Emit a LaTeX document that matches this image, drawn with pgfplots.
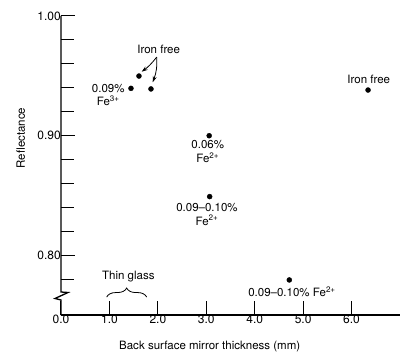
\documentclass[border=0pt]{standalone}
\usepackage{fontspec}
\setmainfont{TeX Gyre Heros}
\usepackage{pgfplots}
\pgfplotsset{compat=1.18}
\usetikzlibrary{decorations.pathreplacing,arrows.meta}

\begin{document}
\begin{tikzpicture}
\begin{axis}[
  at={(0,0)}, anchor=south west,
  scale only axis, width=339pt, height=299pt,
  xmin=0, xmax=7, ymin=0.75, ymax=1.0,
  axis x line=bottom, axis y line=left,
  separate axis lines,
  axis line style={-, line width=1.3pt},
  y axis line style={draw=none},
  tick align=inside,
  xtick={0,1,2,3,4,5,6},
  xticklabels={0.0,1.0,2.0,3.0,4.0,5.0,6.0},
  ytick={0.8,0.9,1.0},
  yticklabels={0.80,0.90,1.00},
  minor ytick={0.78,0.82,0.84,0.86,0.88,0.92,0.94,0.96,0.98},
  major tick length=14pt, minor tick length=13pt,
  every tick/.style={black, line width=1pt},
  /pgf/number format/assume math mode=true,
  tick label style={font=\fontsize{12}{14}\selectfont},
  label style={font=\fontsize{11.5}{14}\selectfont},
  xlabel={Back surface mirror thickness (mm)},
  ylabel={Reflectance},
  every axis x label/.style={at={(axis description cs:0.4386,-0.106)}, anchor=center},
  every axis y label/.style={at={(axis description cs:-0.1189,0.592)}, anchor=center, rotate=90},
  clip=false,
  nodes={font=\fontsize{11.5}{14}\selectfont, inner sep=0pt},
]
\addplot[only marks, mark=*, mark size=2.5pt, black] coordinates {
  (1.445,0.9395) (1.61,0.9498) (1.858,0.939) (6.34,0.9381)
  (3.06,0.8999) (3.07,0.849) (4.714,0.7793)
};
\node at (axis cs:2.017,0.9724) {Iron free};
\draw[-{Stealth[length=6pt,width=4pt]}, line width=0.8pt] (axis cs:1.976,0.9657) to[bend left=8] (axis cs:1.666,0.9534);
\draw[-{Stealth[length=6pt,width=4pt]}, line width=0.8pt] (axis cs:1.976,0.9657) to[bend left=12] (axis cs:1.893,0.9446);
\node[align=center, font=\fontsize{11.5}{13.5}\selectfont] at (axis cs:0.975,0.9340) {0.09\%\hspace{0.9em}\\Fe\textsuperscript{3+}};
\node at (axis cs:6.354,0.9473) {Iron free};
\node[align=center, font=\fontsize{11.5}{13.5}\selectfont] at (axis cs:3.03,0.8865) {0.06\%\\Fe\textsuperscript{2+}};
\node[align=center, font=\fontsize{11.5}{13.5}\selectfont] at (axis cs:3.015,0.8340) {0.09--0.10\%\\Fe\textsuperscript{2+}};
\node at (axis cs:4.77,0.7695) {0.09--0.10\% Fe\textsuperscript{2+}};
\node at (axis cs:1.39,0.782) {Thin glass};
\draw[decorate, decoration={brace, amplitude=9pt}, line width=0.8pt] (axis cs:0.943,0.765) -- (axis cs:1.769,0.765);
\end{axis}
\draw[line width=1.3pt, line join=miter] (0,299pt) -- (0,23pt) -- (7pt,22.5pt) -- (-6pt,16.5pt) -- (0,15pt) -- (0,0);
\pgfresetboundingbox
\path (-61pt,-44pt) rectangle (359pt,315pt);
\end{tikzpicture}
\end{document}
